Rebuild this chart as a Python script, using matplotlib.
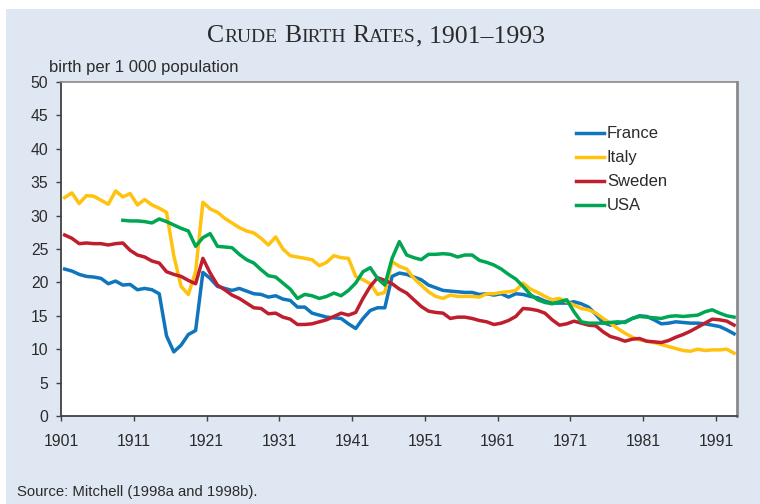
import numpy as np
import matplotlib
matplotlib.use("Agg")
from matplotlib import pyplot as plt
from matplotlib.patches import Rectangle
from matplotlib.transforms import IdentityTransform

# crude birth rates per 1 000 population
years = np.arange(1901, 1994)

france = [22.0, 21.7, 21.2, 20.9, 20.8, 20.6, 19.8, 20.2, 19.6, 19.7,
          18.9, 19.1, 18.9, 18.3, 12.0, 9.6, 10.6, 12.2, 12.8, 21.5,
          20.6, 19.4, 19.1, 18.8, 19.1, 18.7, 18.3, 18.2, 17.8, 18.0,
          17.5, 17.3, 16.3, 16.3, 15.4, 15.1, 14.8, 14.7, 14.6, 13.8,
          13.1, 14.6, 15.8, 16.2, 16.2, 20.9, 21.4, 21.2, 20.8, 20.4,
          19.6, 19.2, 18.8, 18.7, 18.6, 18.5, 18.5, 18.2, 18.3, 18.1,
          18.3, 17.8, 18.3, 18.2, 17.9, 17.7, 17.2, 16.9, 16.9, 16.9,
          17.1, 16.8, 16.3, 15.2, 14.0, 13.6, 13.9, 14.1, 14.6, 15.0,
          14.9, 14.4, 13.8, 13.9, 14.1, 14.0, 13.9, 13.9, 13.8, 13.6,
          13.4, 12.9, 12.3]

italy = [32.7, 33.4, 31.8, 33.0, 32.9, 32.3, 31.7, 33.7, 32.8, 33.3,
         31.6, 32.4, 31.6, 31.1, 30.5, 24.0, 19.4, 18.2, 21.6, 32.0,
         31.0, 30.5, 29.6, 28.9, 28.2, 27.7, 27.4, 26.6, 25.6, 26.8,
         25.0, 24.0, 23.8, 23.6, 23.4, 22.5, 23.0, 24.0, 23.7, 23.6,
         20.9, 20.4, 19.8, 18.2, 18.5, 23.1, 22.4, 22.0, 20.6, 19.6,
         18.6, 17.9, 17.6, 18.1, 17.9, 17.9, 17.9, 17.8, 18.3, 18.3,
         18.5, 18.6, 18.8, 19.9, 19.0, 18.5, 17.9, 17.4, 17.6, 17.1,
         16.6, 16.1, 15.9, 15.4, 14.6, 13.9, 13.1, 12.4, 11.8, 11.4,
         11.2, 11.0, 10.7, 10.4, 10.1, 9.8, 9.7, 10.0, 9.8, 9.9,
         9.9, 10.0, 9.4]

sweden = [27.1, 26.6, 25.8, 25.9, 25.8, 25.8, 25.6, 25.8, 25.9, 24.8,
          24.1, 23.8, 23.2, 22.9, 21.6, 21.2, 20.9, 20.3, 19.8, 23.6,
          21.4, 19.6, 18.9, 18.1, 17.6, 16.9, 16.2, 16.1, 15.3, 15.4,
          14.8, 14.5, 13.7, 13.7, 13.8, 14.1, 14.4, 14.9, 15.4, 15.1,
          15.5, 17.6, 19.4, 20.7, 20.3, 19.8, 19.0, 18.4, 17.4, 16.4,
          15.7, 15.5, 15.4, 14.6, 14.8, 14.8, 14.6, 14.3, 14.1, 13.7,
          13.9, 14.3, 14.9, 16.1, 16.0, 15.8, 15.4, 14.4, 13.6, 13.8,
          14.2, 13.9, 13.6, 13.5, 12.6, 11.9, 11.6, 11.2, 11.5, 11.6,
          11.2, 11.1, 11.0, 11.3, 11.8, 12.2, 12.7, 13.3, 13.9, 14.5,
          14.4, 14.2, 13.6]

# USA series starts in 1909
usa = [np.nan] * 8 + [
       29.3, 29.2, 29.2, 29.1, 28.9, 29.5, 29.1, 28.6, 28.1, 27.7,
       25.4, 26.7, 27.3, 25.4, 25.3, 25.2, 24.2, 23.4, 22.9, 21.9,
       21.0, 20.8, 19.9, 19.0, 17.6, 18.2, 18.0, 17.6, 17.9, 18.4,
       18.0, 18.8, 19.9, 21.6, 22.2, 20.6, 19.6, 23.6, 26.1, 24.1,
       23.7, 23.4, 24.2, 24.2, 24.3, 24.2, 23.8, 24.1, 24.1, 23.3,
       23.0, 22.6, 22.0, 21.2, 20.5, 19.4, 18.2, 17.4, 17.0, 16.8,
       17.1, 17.4, 15.6, 14.1, 13.9, 13.9, 13.9, 14.0, 14.1, 14.0,
       14.6, 14.9, 14.8, 14.7, 14.6, 14.9, 15.0, 14.9, 15.0, 15.1,
       15.6, 15.9, 15.4, 15.0, 14.8]

series = [("France", france, "#0f75bc"),
          ("Italy", italy, "#ffc20e"),
          ("Sweden", sweden, "#be1e2d"),
          ("USA", usa, "#00a651")]

BG = "#dfe7f2"
TXT = "#2b2b2b"
plt.rcParams['font.family'] = ['Liberation Sans', 'DejaVu Sans']

fig = plt.figure(figsize=(7.6, 5.04), dpi=100)
fig.patch.set_facecolor("white")
fig.add_artist(Rectangle((6 / 760, 0), 1, (504 - 9) / 504, transform=fig.transFigure,
                         facecolor=BG, edgecolor="none", zorder=-10))

ax = fig.add_axes([61 / 760, 88 / 504, 676 / 760, 334 / 504])
ax.set_facecolor("white")

for name, vals, col in series:
    # yearly values drawn at mid-year
    ax.plot(years + 0.5, vals, color=col, lw=2.5, label=name, solid_joinstyle="round")

ax.set_xlim(1901, 1993.9)
ax.set_ylim(0, 50)
ax.set_xticks(np.arange(1901, 1992, 10))
ax.set_yticks(np.arange(0, 51, 5))
ax.tick_params(axis="both", direction="out", length=3.6, width=1, color="#404040",
               labelsize=11.3, labelcolor=TXT)
ax.tick_params(axis="y", pad=5.5)
ax.tick_params(axis="x", pad=9.5)
for s in ["left", "bottom"]:
    ax.spines[s].set_color("#404040")
    ax.spines[s].set_linewidth(1.3)
ax.spines["top"].set_color("#8a8a8a")
ax.spines["top"].set_linewidth(1.2)
ax.spines["right"].set_color("#8a8a8a")
ax.spines["right"].set_linewidth(2.0)

ax.legend(loc="upper left", bbox_to_anchor=(0.762, 0.867), frameon=False, fontsize=12,
          handlelength=1.7, handletextpad=0.15, labelspacing=0.54, borderpad=0,
          borderaxespad=0, labelcolor=TXT)

fig.text(49 / 760, 1 - 72 / 504, "birth per 1 000 population", fontsize=12,
         va="baseline", color=TXT)
fig.text(17 / 760, 8 / 504, "Source: Mitchell (1998a and 1998b).", fontsize=10.7,
         va="baseline", color=TXT)

# small-caps title built from pieces
big, small = 18.5, 14
parts = [("C", big, 0), ("RUDE", small, 1), ("B", big, 0), ("IRTH", small, 1),
         ("R", big, 0), ("ATES", small, 0), (", 1901\u20131993", big, 0)]
renderer = fig.canvas.get_renderer()
pieces = []
x = 0
for s, size, gap in parts:
    t = fig.text(x, 504 - 42, s, fontsize=size, family="Liberation Serif", va="baseline",
                 ha="left", color=TXT, transform=IdentityTransform())
    bb = t.get_window_extent(renderer)
    pieces.append(t)
    x = bb.x1 + (big * 0.25 * 100 / 72 if gap else 0)
shift = 376 - x / 2
for t in pieces:
    px, py = t.get_position()
    t.set_position((px + shift, py))

fig.savefig("out.png", dpi=100)
